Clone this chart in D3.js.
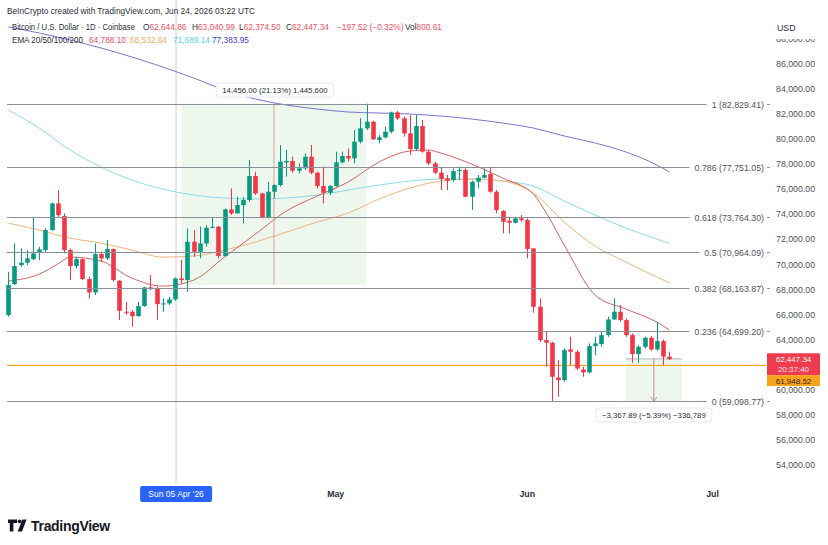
<!DOCTYPE html>
<html><head><meta charset="utf-8">
<script src="https://cdn.jsdelivr.net/npm/d3@7"></script>
<style>body{margin:0;background:#fff}svg{display:block;font-family:"Liberation Sans",Arial,sans-serif}</style>
</head><body><svg id="c" width="828" height="545"></svg>
<script>
// ---------- DATA ----------
const startDate = "2026-03-09";
const opens = [65962,68437,69953,70140,70432,70938,71151,72747,74876,73865,71151,69874,70432,68836,67771,70832,70486,71231,68703,66228,66228,65882,66681,68171,68038,66813,66893,67212,68889,68756,71817,71018,71684,72934,73014,70673,74398,74079,74744,75143,77059,75675,73759,75808,76340,78150,78256,77485,77671,78602,77325,76260,75728,76260,78150,78656,78469,79800,80864,81396,79933,80146,80598,82141,81662,80465,79214,81050,79002,78070,77325,76873,76740,77458,77538,75409,76606,76926,77219,75808,74265,73493,73333,73679,73546,71284,66627,63966,63753,60987,60773,63221,63035,61624,61385,63487,63650,64365,65616,66228,65563,64365,62849,63434,64152,63221,63886,62644.86];
const highs = [69421,71683,71284,71151,73812,71417,72880,74950,75941,74078,71284,70619,70486,69022,71683,71018,71949,71284,68756,67026,66361,67026,68224,69155,68224,67292,67425,68950,70353,72881,72748,73014,73147,73812,73067,74478,76074,75409,75409,78336,77405,75728,76606,76400,79534,79135,78602,78070,78868,79534,77405,77804,76340,79001,79001,79268,80731,81662,82829.41,81476,80332,80997,82195,82248,81796,81929,81929,81530,79135,78203,77804,77139,77671,77804,77671,76686,77139,77671,77804,75941,74345,73812,73812,73945,73679,71337,67292,64631,63833,62370,63301,64232,63168,61837,63700,64232,64631,65829,67292,66760,65696,64498,63567,64232,64285,65430,64019,63040.99];
const lows = [65830,68357,69820,69953,70353,70353,71018,72700,73812,70885,68756,69687,68756,67292,67558,70220,70353,68623,65563,65962,65031,65829,66627,67958,65563,66228,66760,67100,68490,67825,70619,70486,71418,72881,70486,70619,73946,74079,73280,75010,75542,73679,73679,75276,76207,77006,77325,77272,77538,77219,76074,74877,75542,76207,78070,78203,78070,79667,80731,79933,79667,80066,80465,81529,80199,78736,79135,78922,77937,77219,75941,75941,76606,76740,75356,74345,76074,76873,75728,74079,72482,72481,73280,73413,70486,66148,63833,61837,59098.77,59443,60640,61970,61571,61040,61305,62769,63434,64232,65563,65430,64232,62157,62157,63301,63115,63115,61970,62374.50];
const closes = [68357,69874,70140,70486,70885,71204,72747,74876,73945,71151,69874,70432,68836,67771,70832,70486,71231,68756,66308,66175,65882,66681,68171,68038,66840,66893,67212,68889,68756,71817,71018,71684,72934,73014,70673,74398,74079,74744,75143,77059,75675,73759,75808,76340,78203,78256,77485,77671,78602,77325,76260,75728,76260,78150,78656,78469,79800,80864,81396,79986,80146,80598,82141,81662,80465,79214,81050,79002,78070,77325,76820,76686,77458,77538,75409,76606,76926,77139,75808,74345,73413,73333,73679,73546,71231,66627,63966,63753,61040,60773,63168,63035,61704,61385,63487,63700,64365,65616,66228,65563,64365,62849,63434,64152,63221,63886,62644.86,62447.34];

// EMA lines (day index -> value)
const emaIdx = [0,5,10,15,20,25,30,35,40,45,50,55,60,65,70,75,80,85,90,95,100,105,107];
const ema50 = [73305,72747,72108,71709,71150,70591,70671,71150,71789,72587,73385,74104,75222,76100,76659,76818,76659,75701,73385,71469,70192,68994,68532.64];
const ema100 = [82327,80890,79134,77776,76739,76020,75541,75301,75222,75301,75541,75940,76339,76659,76818,76818,76659,76260,75062,73944,72906,72028,71689.14];
const ema200 = [88954,88475,87916,87277,86559,85760,84882,83924,83206,82727,82407,82168,82088,82008,81848,81609,81290,80890,80252,79693,78974,77936,77383.95];
const ema20Idx = [0,5,8,10,15,20,25,30,35,40,45,50,55,60,65,68,70,75,80,85,87,90,95,100,105,107];
const ema20 = [68675,69234,70032,70591,70272,68914,68276,68755,70591,72427,74264,75461,76579,78176,79054,79134,78894,78016,76898,75621,74184,71549,67557,66439,65401,64788.10];

const fibLevels = ["1","0.786","0.618","0.5","0.382","0.236","0"];
const fibPrices = [82829.41,77751.05,73764.30,70964.09,68163.87,64699.20,59098.77];
const priceTicks = [54000,56000,58000,60000,64000,66000,68000,70000,72000,74000,76000,78000,80000,82000,84000,86000,88000];
const monthTickDates = ["2026-05-01","2026-06-01","2026-07-01"];
const monthTickLabels = ["May","Jun","Jul"];
const hoverDateIdx = 27, hoverDateLabel = "Sun 05 Apr '26";
const lastClose = 62447.34, countdown = "20:37:40", alertPrice = 61948.52, volume = "800.61";
const range1 = {startIdx:28, endIdx:58, top:82829.41, diff:14456.00, label:"14,456.00 (21.13%) 1,445,600"};
const range2 = {startIdx:100, endIdx:109, top:62466.66, bottom:59098.77, label:"\u22123,367.89 (\u22125.39%) \u2212336,789"};

// ---------- CHART ----------
const svg = d3.select("#c");
const parse = d3.utcParse("%Y-%m-%d");
const d0 = parse(startDate);
const dates = opens.map((_, i) => d3.utcDay.offset(d0, i));
const dayAt = i => d3.utcDay.offset(d0, i);
const x = d3.scaleUtc().domain([dates[0], dates[dates.length - 1]]).range([8.3, 669.3]);
const y = d3.scaleLinear().domain([54000, 86000]).range([465, 64]);
const GREEN = "#089981", RED = "#f23645";
const fmt = d3.format(",.2f");

svg.append("defs").append("clipPath").attr("id", "plot")
  .append("rect").attr("x", 0).attr("y", 0).attr("width", 766).attr("height", 483);
const plot = svg.append("g").attr("clip-path", "url(#plot)");

// crosshair vertical
plot.append("line").attr("x1", x(dates[hoverDateIdx]) + 1).attr("x2", x(dates[hoverDateIdx]) + 1)
  .attr("y1", 0).attr("y2", 483).attr("stroke", "#e4e6eb").attr("stroke-width", 2);

// range boxes
const r1x0 = x(dayAt(range1.startIdx)), r1x1 = x(dayAt(range1.endIdx));
plot.append("rect").attr("x", r1x0).attr("y", y(range1.top)).attr("width", r1x1 - r1x0)
  .attr("height", y(range1.top - range1.diff) - y(range1.top)).attr("fill", "#4caf50").attr("fill-opacity", 0.1);
const r2x0 = x(dayAt(range2.startIdx)), r2x1 = x(dayAt(range2.endIdx));
plot.append("rect").attr("x", r2x0).attr("y", y(range2.top)).attr("width", r2x1 - r2x0)
  .attr("height", y(range2.bottom) - y(range2.top)).attr("fill", "#4caf50").attr("fill-opacity", 0.1);
plot.append("line").attr("x1", r2x0).attr("x2", r2x1).attr("y1", y(range2.top)).attr("y2", y(range2.top))
  .attr("stroke", "#b2b5be").attr("stroke-width", 1);

// fib lines
const fibG = svg.append("g");
fibLevels.forEach((lv, k) => {
  const yy = Math.round(y(fibPrices[k])) + 0.5;
  const t = fibG.append("text").attr("x", 764).attr("y", yy + 3).attr("text-anchor", "end")
    .attr("font-size", 8.8).attr("fill", "#50535e").text(`${lv} (${fmt(fibPrices[k])})`);
  const w = t.node().getComputedTextLength();
  fibG.append("line").attr("x1", 7).attr("x2", 764 - w - 5).attr("y1", yy).attr("y2", yy)
    .attr("stroke", "#8c8f98").attr("stroke-width", 1);
  fibG.append("line").attr("x1", 767).attr("x2", 770).attr("y1", yy).attr("y2", yy)
    .attr("stroke", "#9a9da6").attr("stroke-width", 1);
});

// alert (orange) line
plot.append("line").attr("x1", 7).attr("x2", 766).attr("y1", y(alertPrice)).attr("y2", y(alertPrice))
  .attr("stroke", "#f5a623").attr("stroke-width", 1.2);

// EMA lines
const mk = idx => d3.line().x((d, i) => x(dayAt(idx[i]))).y(d => y(d)).curve(d3.curveMonotoneX);
plot.append("path").attr("d", mk(emaIdx)(ema200)).attr("fill", "none").attr("stroke", "#7c74cc").attr("stroke-width", 1);
plot.append("path").attr("d", mk(emaIdx)(ema100)).attr("fill", "none").attr("stroke", "#8adbe8").attr("stroke-width", 1);
plot.append("path").attr("d", mk(emaIdx)(ema50)).attr("fill", "none").attr("stroke", "#f1b47e").attr("stroke-width", 1);
plot.append("path").attr("d", mk(ema20Idx)(ema20)).attr("fill", "none").attr("stroke", "#d2655e").attr("stroke-width", 1);

// range markers
const r1mid = (r1x0 + r1x1) / 2;
plot.append("line").attr("x1", r1mid).attr("x2", r1mid).attr("y1", y(range1.top)).attr("y2", y(range1.top - range1.diff))
  .attr("stroke", "#e3a0a0").attr("stroke-width", 1);
const r2mid = (r2x0 + r2x1) / 2;
plot.append("line").attr("x1", r2mid).attr("x2", r2mid).attr("y1", y(range2.top)).attr("y2", y(range2.bottom))
  .attr("stroke", "#c98a8a").attr("stroke-width", 1);
plot.append("path").attr("d", `M${r2mid-3},${y(range2.bottom)-4}L${r2mid},${y(range2.bottom)}L${r2mid+3},${y(range2.bottom)-4}`)
  .attr("fill", "none").attr("stroke", "#c98a8a");

// candles
const cg = plot.append("g");
dates.forEach((d, i) => {
  const cx = Math.round(x(d)) + 0.5;
  const up = closes[i] >= opens[i];
  const col = up ? GREEN : RED;
  cg.append("line").attr("x1", cx).attr("x2", cx).attr("y1", y(highs[i])).attr("y2", y(lows[i]))
    .attr("stroke", col).attr("stroke-width", 1);
  const top = y(Math.max(opens[i], closes[i])), bot = y(Math.min(opens[i], closes[i]));
  cg.append("rect").attr("x", cx - 2.3).attr("y", top).attr("width", 4.6).attr("height", Math.max(1, bot - top))
    .attr("fill", col);
});

// range labels
function label(cx, cy, txt) {
  const g = svg.append("g");
  const t = g.append("text").attr("x", cx).attr("y", cy + 3).attr("text-anchor", "middle")
    .attr("font-size", 7.8).attr("fill", "#2a2e39").text(txt);
  const w = t.node().getComputedTextLength();
  g.insert("rect", "text").attr("x", cx - w / 2 - 6).attr("y", cy - 7).attr("width", w + 12).attr("height", 14)
    .attr("rx", 3).attr("fill", "#fff").attr("stroke", "#e6e8ee");
}
label(r1mid + 1, 90, range1.label);
label(r2mid, 415, range2.label);

// price axis
const ax = svg.append("g");
priceTicks.forEach(p => {
  ax.append("text").attr("x", 776).attr("y", y(p) + 3).attr("font-size", 8.8).attr("fill", "#50535e").text(fmt(p));
});
ax.append("rect").attr("x", 766).attr("y", 0).attr("width", 62).attr("height", 39).attr("fill", "#fff");
ax.append("text").attr("x", 777).attr("y", 31).attr("font-size", 8.8).attr("fill", "#2a2e39").text("USD");

// price tags
const yc = y(lastClose);
svg.append("rect").attr("x", 767).attr("y", yc - 6).attr("width", 53).attr("height", 22).attr("rx", 1).attr("fill", "#ee3b4d");
svg.append("text").attr("x", 793.5).attr("y", yc + 2.5).attr("text-anchor", "middle").attr("font-size", 8).attr("fill", "#fff").text(fmt(lastClose));
svg.append("text").attr("x", 793.5).attr("y", yc + 12.5).attr("text-anchor", "middle").attr("font-size", 8).attr("fill", "#ffe6e8").text(countdown);
svg.append("rect").attr("x", 767).attr("y", yc + 16).attr("width", 53).attr("height", 11).attr("fill", "#f7a21b");
svg.append("text").attr("x", 793.5).attr("y", yc + 24.5).attr("text-anchor", "middle").attr("font-size", 8).attr("fill", "#3a2500").text(fmt(alertPrice));

// time axis
monthTickDates.forEach((s, k) => {
  svg.append("text").attr("x", x(parse(s))).attr("y", 497).attr("text-anchor", "middle")
    .attr("font-size", 8.8).attr("font-weight", 600).attr("fill", "#2a2e39").text(monthTickLabels[k]);
});
const hx = x(dates[hoverDateIdx]) + 1;
svg.append("rect").attr("x", hx - 36).attr("y", 486).attr("width", 72).attr("height", 16).attr("rx", 2).attr("fill", "#2962ff");
svg.append("text").attr("x", hx).attr("y", 497).attr("text-anchor", "middle").attr("font-size", 8.5).attr("fill", "#fff").text(hoverDateLabel);

// header
const hd = svg.append("g").attr("font-size", 8.3);
hd.append("text").attr("x", 7).attr("y", 14).attr("fill", "#2a2e39")
  .attr("textLength", 248).attr("lengthAdjust", "spacingAndGlyphs")
  .text("BeInCrypto created with TradingView.com, Jun 24, 2026 03:22 UTC");
hd.append("text").attr("x", 12).attr("y", 30).attr("fill", "#2a2e39")
  .attr("textLength", 123).attr("lengthAdjust", "spacingAndGlyphs")
  .text("Bitcoin / U.S. Dollar \u00b7 1D \u00b7 Coinbase");
const ohlc = [["O", opens[107], 143], ["H", highs[107], 192], ["L", lows[107], 239], ["C", closes[107], 286]];
ohlc.forEach(([k, v, xx]) => {
  const t = hd.append("text").attr("x", xx).attr("y", 30);
  t.append("tspan").attr("fill", "#2a2e39").text(k);
  t.append("tspan").attr("fill", "#ef4f5f").text(fmt(v));
});
const chg = closes[107] - closes[106];
hd.append("text").attr("x", 337).attr("y", 30).attr("fill", "#ef4f5f")
  .text(`\u2212${fmt(Math.abs(chg))} (\u2212${(Math.abs(chg) / closes[106] * 100).toFixed(2)}%)`);
const vt = hd.append("text").attr("x", 405).attr("y", 30);
vt.append("tspan").attr("fill", "#2a2e39").text("Vol");
vt.append("tspan").attr("fill", "#ef4f5f").text(volume);
hd.append("text").attr("x", 12).attr("y", 43).attr("fill", "#2a2e39")
  .attr("textLength", 71).attr("lengthAdjust", "spacingAndGlyphs").text("EMA 20/50/100/200");
[[ema20[ema20.length-1], "#ef4f5f", 89], [ema50[ema50.length-1], "#f5ad5c", 130], [ema100[ema100.length-1], "#58d3e6", 173], [ema200[ema200.length-1], "#3d3fc4", 212]]
  .forEach(([v, c, xx]) => hd.append("text").attr("x", xx).attr("y", 43).attr("fill", c).text(fmt(v)));

// logo
const lg = svg.append("g").attr("fill", "#131722");
lg.append("path").attr("d", "M8,519.5h9v3.5h-3.6v8.5h-3.6v-8.5H8z");
lg.append("circle").attr("cx", 19.6).attr("cy", 521.3).attr("r", 1.9);
lg.append("path").attr("d", "M22.3,519.5h4.3l-4.6,12h-4.3z");
lg.append("text").attr("x", 31).attr("y", 531).attr("font-size", 14).attr("font-weight", 700)
  .attr("letter-spacing", -0.3).text("TradingView");
</script></body></html>
